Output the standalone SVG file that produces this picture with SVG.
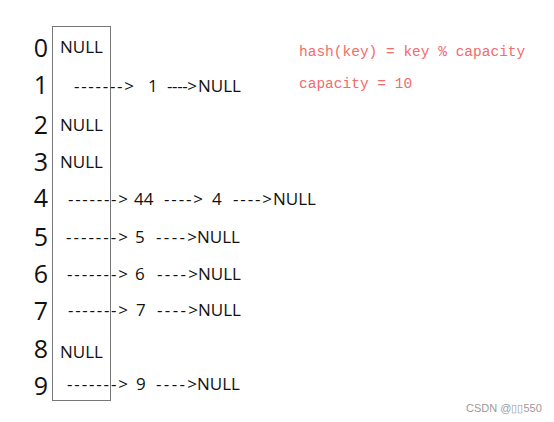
<svg xmlns="http://www.w3.org/2000/svg" width="554" height="422" viewBox="0 0 554 422">
<style>
.d{font-family:"Open Sans","Noto Sans",sans-serif;font-size:25px;fill:#111;text-anchor:middle}
.t{font-family:"Open Sans","Noto Sans",sans-serif;font-size:17px;fill:#111}
.a{font-family:"Open Sans","Noto Sans",sans-serif;font-size:17px;fill:#111}
.r{font-family:"Liberation Mono","DejaVu Sans Mono",monospace;font-size:14.5px;fill:#f36b6b}
.w{font-family:"Liberation Sans",sans-serif;font-size:11px;fill:#9a9a9a}
</style>
<rect width="554" height="422" fill="#fff"/>
<g id="table"><rect x="52.5" y="26.5" width="58" height="374" fill="none" stroke="#777" stroke-width="1"/></g>
<g id="formula">
<text class="r" x="299" y="56">hash(key) = key % capacity</text>
<text class="r" x="299" y="88">capacity = 10</text>
</g>
<g id="row0"><text class="d" x="41" y="57">0</text><text class="t" x="60" y="53">NULL</text></g>
<g id="row1"><text class="d" x="41" y="94">1</text></g>
<g id="row2"><text class="d" x="41" y="134">2</text><text class="t" x="60" y="131">NULL</text></g>
<g id="row3"><text class="d" x="41" y="171">3</text><text class="t" x="60" y="168">NULL</text></g>
<g id="row4"><text class="d" x="41" y="207">4</text></g>
<g id="row5"><text class="d" x="41" y="246">5</text></g>
<g id="row6"><text class="d" x="41" y="283">6</text></g>
<g id="row7"><text class="d" x="41" y="320">7</text></g>
<g id="row8"><text class="d" x="41" y="358">8</text><text class="t" x="60" y="358">NULL</text></g>
<g id="row9"><text class="d" x="41" y="395">9</text></g>
<g id="connectors">
<text class="a" x="74" y="92" textLength="60" lengthAdjust="spacing">-------&gt;</text>
<text class="a" x="148" y="92">1</text>
<text class="a" x="167" y="92" textLength="30" lengthAdjust="spacing">----&gt;</text>
<text class="a" x="198" y="92">NULL</text>

<text class="a" x="68" y="205" textLength="60" lengthAdjust="spacing">-------&gt;</text>
<text class="a" x="134" y="205">44</text>
<text class="a" x="164" y="205" textLength="39" lengthAdjust="spacing">----&gt;</text>
<text class="a" x="212" y="205">4</text>
<text class="a" x="233" y="205" textLength="39" lengthAdjust="spacing">----&gt;</text>
<text class="a" x="273" y="205">NULL</text>

<text class="a" x="66" y="243" textLength="62" lengthAdjust="spacing">-------&gt;</text>
<text class="a" x="135" y="243">5</text>
<text class="a" x="156" y="243" textLength="41" lengthAdjust="spacing">----&gt;</text>
<text class="a" x="197" y="243">NULL</text>

<text class="a" x="67" y="280" textLength="61" lengthAdjust="spacing">-------&gt;</text>
<text class="a" x="135" y="280">6</text>
<text class="a" x="157" y="280" textLength="41" lengthAdjust="spacing">----&gt;</text>
<text class="a" x="198" y="280">NULL</text>

<text class="a" x="68" y="316" textLength="60" lengthAdjust="spacing">-------&gt;</text>
<text class="a" x="136" y="316">7</text>
<text class="a" x="157" y="316" textLength="41" lengthAdjust="spacing">----&gt;</text>
<text class="a" x="198" y="316">NULL</text>

<text class="a" x="67" y="390" textLength="61" lengthAdjust="spacing">-------&gt;</text>
<text class="a" x="136" y="390">9</text>
<text class="a" x="156" y="390" textLength="41" lengthAdjust="spacing">----&gt;</text>
<text class="a" x="197" y="390">NULL</text>
</g>
<text class="w" x="466" y="412">CSDN @▯▯550</text>
</svg>
